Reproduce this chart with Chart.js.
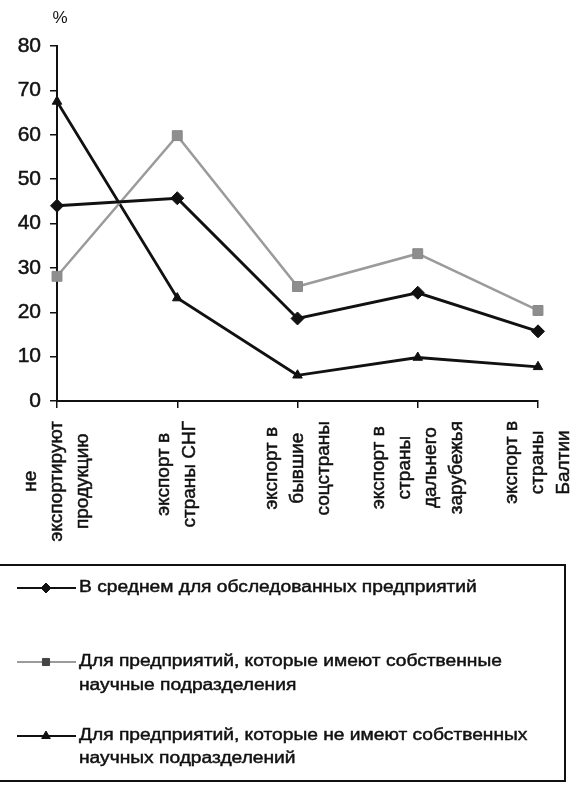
<!DOCTYPE html>
<html>
<head>
<meta charset="utf-8">
<script src="https://cdn.jsdelivr.net/npm/chart.js@4/dist/chart.umd.min.js"></script>
<style>
  html, body { margin: 0; padding: 0; background: #fff; }
  #wrap { width: 577px; height: 785px; position: relative; }
</style>
</head>
<body>
<div id="wrap"><canvas id="c" width="577" height="785"></canvas></div>
<script>
// Export activity of surveyed enterprises, % of enterprises
const categories = [
  ['не', 'экспортируют', 'продукцию'],
  ['экспорт в', 'страны СНГ'],
  ['экспорт в', 'бывшие', 'соцстраны'],
  ['экспорт в', 'страны', 'дальнего', 'зарубежья'],
  ['экспорт в', 'страны', 'Балтии']
];
const averageAll   = [44.0, 45.7, 18.6, 24.4, 15.7];
const withOwnRnD   = [28.1, 59.8, 25.8, 33.2, 20.4];
const withoutRnD   = [67.5, 23.2, 5.8, 9.8, 7.7];
const yMin = 0, yMax = 80, yStep = 10;
const axisUnit = '%';
const seriesNames = [
  ['В среднем для обследованных предприятий'],
  ['Для предприятий, которые имеют собственные', 'научные подразделения'],
  ['Для предприятий, которые не имеют собственных', 'научных подразделений']
];

const FONT = '"Liberation Sans", Arial, Helvetica, sans-serif';
const INK = '#111';

// Category labels: rotated, lines centred inside a block hanging from the axis
const categoryLabels = {
  id: 'categoryLabels',
  afterDraw(chart) {
    const ctx = chart.ctx;
    const xs = chart.scales.x;
    const top = chart.chartArea.bottom + 20;
    const gap = 26;
    ctx.save();
    ctx.font = '19px ' + FONT;
    ctx.fillStyle = INK;
    ctx.strokeStyle = INK;
    ctx.lineWidth = 0.5;
    ctx.textAlign = 'center';
    ctx.textBaseline = 'middle';
    chart.data.labels.forEach((lines, i) => {
      const x = xs.getPixelForTick(i);
      const maxW = Math.max(...lines.map(l => ctx.measureText(l).width));
      const cy = top + maxW / 2;
      lines.forEach((line, j) => {
        const cx = x + (j - (lines.length - 1) / 2) * gap;
        ctx.save();
        ctx.translate(cx, cy);
        ctx.rotate(-Math.PI / 2);
        ctx.fillText(line, 0, 0);
        ctx.strokeText(line, 0, 0);
        ctx.restore();
      });
    });
    ctx.restore();
  }
};

// Unit caption above the value axis
const unitCaption = {
  id: 'unitCaption',
  afterDraw(chart) {
    const ctx = chart.ctx;
    ctx.save();
    ctx.font = '17px ' + FONT;
    ctx.fillStyle = INK;
    ctx.textAlign = 'center';
    ctx.textBaseline = 'middle';
    ctx.fillText(axisUnit, chart.chartArea.left + 3, 18);
    ctx.restore();
  }
};

function drawMarker(ctx, style, x, y, r, fill, stroke) {
  ctx.save();
  ctx.fillStyle = fill;
  ctx.strokeStyle = stroke;
  ctx.lineWidth = 1;
  ctx.beginPath();
  if (style === 'rectRot') {
    ctx.moveTo(x, y - r); ctx.lineTo(x + r, y); ctx.lineTo(x, y + r); ctx.lineTo(x - r, y);
  } else if (style === 'rect') {
    const s = r * Math.SQRT1_2;
    ctx.rect(x - s, y - s, 2 * s, 2 * s);
  } else {
    const h = r * 1.5, w = r * Math.sqrt(3) / 2;
    ctx.moveTo(x, y - r); ctx.lineTo(x + w, y + h - r); ctx.lineTo(x - w, y + h - r);
  }
  ctx.closePath();
  ctx.fill();
  ctx.stroke();
  ctx.restore();
}

// Boxed legend below the plot; the legend face is a wide sans, so the text is stretched
const boxLegend = {
  id: 'boxLegend',
  afterDraw(chart) {
    const ctx = chart.ctx;
    ctx.save();
    ctx.strokeStyle = INK;
    ctx.lineWidth = 2;
    ctx.strokeRect(-5, 565, 570, 216);
    const rows = [[588], [662, 686], [736, 759]];
    const stretch = 1.2;
    chart.data.datasets.forEach((ds, i) => {
      const y = rows[i][0];
      ctx.save();
      ctx.strokeStyle = ds.borderColor;
      ctx.lineWidth = 2;
      ctx.beginPath();
      ctx.moveTo(17, y); ctx.lineTo(76, y);
      ctx.stroke();
      ctx.restore();
      drawMarker(ctx, ds.pointStyle, 46, y, 5, ds.legendMarker || ds.pointBackgroundColor, ds.legendMarker || ds.pointBorderColor);
      ds.label.forEach((line, j) => {
        ctx.save();
        ctx.scale(stretch, 1);
        ctx.font = '16px ' + FONT;
        ctx.textBaseline = 'middle';
        ctx.textAlign = 'left';
        ctx.fillStyle = INK;
        ctx.strokeStyle = INK;
        ctx.lineWidth = 0.45;
        ctx.fillText(line, 79 / stretch, rows[i][j]);
        ctx.strokeText(line, 79 / stretch, rows[i][j]);
        ctx.restore();
      });
    });
    ctx.restore();
  }
};

new Chart(document.getElementById('c'), {
  type: 'line',
  data: {
    labels: categories,
    datasets: [
      {
        label: seriesNames[0], data: averageAll,
        borderColor: '#111', borderWidth: 3,
        pointStyle: 'rectRot', pointRadius: 6.5,
        pointBackgroundColor: '#111', pointBorderColor: '#111', pointBorderWidth: 1,
        tension: 0, clip: false
      },
      {
        label: seriesNames[1], data: withOwnRnD,
        borderColor: '#9b9b9b', borderWidth: 2.5,
        pointStyle: 'rect', pointRadius: 7,
        pointBackgroundColor: '#8e8e8e', pointBorderColor: '#888', pointBorderWidth: 1,
        legendMarker: '#444',
        tension: 0, clip: false
      },
      {
        label: seriesNames[2], data: withoutRnD,
        borderColor: '#111', borderWidth: 2.8,
        pointStyle: 'triangle', pointRadius: 5.5,
        pointBackgroundColor: '#111', pointBorderColor: '#111', pointBorderWidth: 1,
        tension: 0, clip: false
      }
    ]
  },
  options: {
    responsive: false,
    animation: false,
    layout: { padding: { top: 46, right: 39, left: 0, bottom: 0 } },
    plugins: { legend: { display: false }, tooltip: { enabled: false } },
    scales: {
      x: {
        offset: false,
        grid: { drawOnChartArea: false, drawTicks: true, tickLength: 7, color: INK, lineWidth: 1.5 },
        border: { display: true, color: INK, width: 2 },
        ticks: { display: false },
        afterFit(s) { s.height = 785 - 401; }
      },
      y: {
        min: yMin, max: yMax,
        ticks: {
          stepSize: yStep, color: INK, padding: 9,
          font: { family: FONT, size: 21 },
          textStrokeColor: INK, textStrokeWidth: 0.5
        },
        grid: { drawOnChartArea: false, drawTicks: true, tickLength: 7, color: INK, lineWidth: 1.5 },
        border: { display: true, color: INK, width: 2 },
        afterFit(s) { s.width = 57; }
      }
    }
  },
  plugins: [categoryLabels, unitCaption, boxLegend]
});
</script>
</body>
</html>
